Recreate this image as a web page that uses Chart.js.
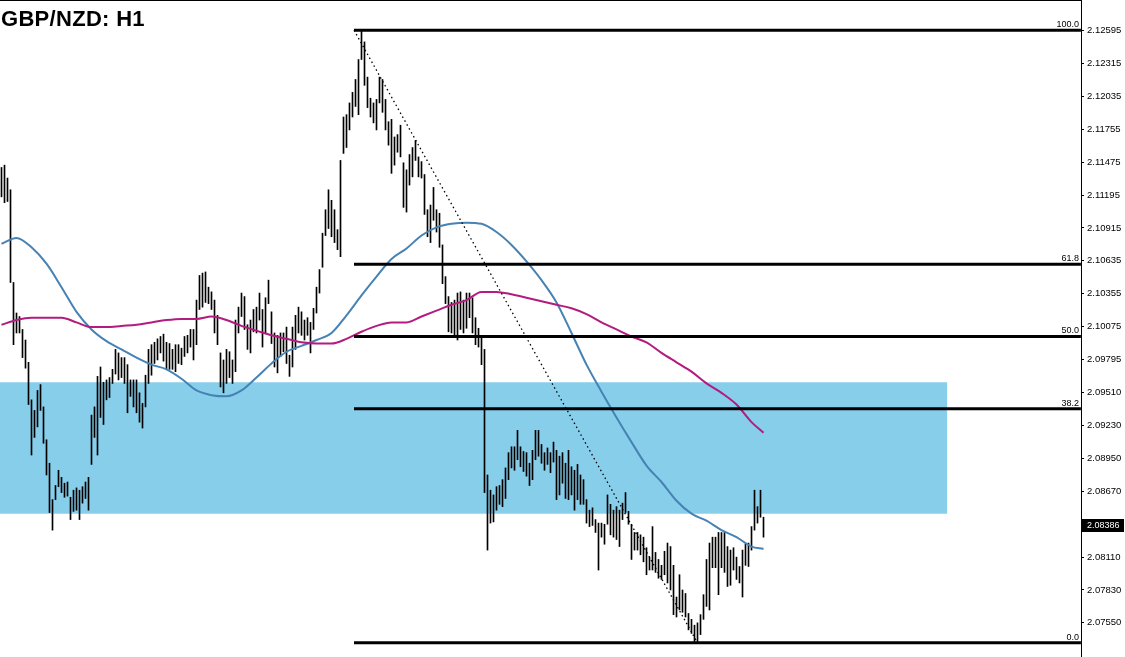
<!DOCTYPE html>
<html><head><meta charset="utf-8">
<script src="https://cdn.jsdelivr.net/npm/chart.js@4.4.0/dist/chart.umd.min.js"></script>
<style>
html,body{margin:0;padding:0;background:#fff;overflow:hidden}
#wrap{position:relative;width:1125px;height:657px}
#title{position:absolute;left:1px;top:8px;font:bold 22px "Liberation Sans",Arial,sans-serif;line-height:22px;color:#000;z-index:2;letter-spacing:0.3px}
canvas{position:absolute;left:0;top:0}
</style></head><body>
<div id="wrap"><canvas id="c" width="1125" height="657"></canvas><div id="title">GBP/NZD: H1</div></div>
<script>
// H1 bars: highs and lows, one per bar
const highs = [2.1143,2.1145,2.1134,2.1124,2.1045,2.1019,2.1016,2.1005,2.0996,2.0977,
2.0945,2.0936,2.0953,2.0958,2.0939,2.0911,2.0891,2.0860,2.0872,2.0885,
2.0879,2.0874,2.0875,2.0862,2.0868,2.0870,2.0868,2.0871,2.0875,2.0879,
2.0932,2.0939,2.0965,2.0973,2.0960,2.0962,2.0964,2.0971,2.0988,2.0985,
2.0981,2.0981,2.0975,2.0962,2.0962,2.0962,2.0951,2.0942,2.0966,2.0988,
2.0992,2.0994,2.0997,2.0999,2.1001,2.0994,2.0993,2.0988,2.0992,2.0992,
2.0989,2.0999,2.1000,2.1005,2.1005,2.1030,2.1051,2.1053,2.1054,2.1041,
2.1037,2.1030,2.1017,2.0985,2.0979,2.0988,2.0986,2.0979,2.1013,2.1024,
2.1036,2.1033,2.1009,2.1013,2.1022,2.1024,2.1036,2.1022,2.1032,2.1047,
2.1020,2.1002,2.1000,2.1002,2.1002,2.1007,2.0983,2.1007,2.1017,2.1024,
2.1020,2.1013,2.1015,2.1011,2.1023,2.1041,2.1056,2.1087,2.1107,2.1124,
2.1115,2.1107,2.1090,2.1149,2.1186,2.1188,2.1198,2.1207,2.1218,2.1235,
2.1260,2.1250,2.1220,2.1202,2.1198,2.1201,2.1220,2.1218,2.1201,2.1182,
2.1184,2.1169,2.1171,2.1179,2.1147,2.1141,2.1154,2.1160,2.1166,2.1152,
2.1148,2.1137,2.1107,2.1111,2.1126,2.1107,2.1104,2.1077,2.1050,2.1033,
2.1028,2.1030,2.1036,2.1037,2.1030,2.1036,2.1036,2.1032,2.1015,2.1006,
2.1000,2.0988,2.0881,2.0868,2.0864,2.0871,2.0872,2.0877,2.0887,2.0900,
2.0905,2.0905,2.0919,2.0905,2.0901,2.0900,2.0891,2.0902,2.0919,2.0919,
2.0907,2.0900,2.0904,2.0900,2.0909,2.0902,2.0897,2.0900,2.0891,2.0902,
2.0888,2.0885,2.0890,2.0881,2.0877,2.0860,2.0851,2.0853,2.0843,2.0840,
2.0840,2.0839,2.0864,2.0856,2.0851,2.0854,2.0851,2.0857,2.0866,2.0850,
2.0839,2.0832,2.0832,2.0830,2.0828,2.0819,2.0811,2.0837,2.0815,2.0809,
2.0804,2.0816,2.0823,2.0820,2.0804,2.0777,2.0796,2.0783,2.0780,2.0763,
2.0758,2.0753,2.0755,2.0762,2.0779,2.0809,2.0823,2.0828,2.0828,2.0832,
2.0832,2.0832,2.0820,2.0817,2.0819,2.0811,2.0803,2.0817,2.0822,2.0823,
2.0837,2.0868,2.0854,2.0868,2.0845];
const lows = [2.1118,2.1113,2.1114,2.1045,2.0992,2.1002,2.1002,2.0981,2.0972,2.0941,
2.0898,2.0913,2.0922,2.0936,2.0908,2.0881,2.0849,2.0834,2.0860,2.0871,
2.0866,2.0862,2.0863,2.0843,2.0850,2.0851,2.0843,2.0857,2.0861,2.0851,
2.0890,2.0913,2.0898,2.0930,2.0924,2.0945,2.0947,2.0959,2.0967,2.0962,
2.0964,2.0959,2.0934,2.0948,2.0939,2.0934,2.0926,2.0921,2.0939,2.0959,
2.0966,2.0976,2.0979,2.0985,2.0978,2.0971,2.0971,2.0971,2.0969,2.0976,
2.0975,2.0982,2.0985,2.0990,2.0979,2.0992,2.1022,2.1024,2.1028,2.1027,
2.1022,2.1002,2.0992,2.0956,2.0951,2.0959,2.0964,2.0959,2.0969,2.1002,
2.1016,2.1005,2.0988,2.0985,2.1003,2.1002,2.1013,2.0990,2.1002,2.1027,
2.0993,2.0973,2.0968,2.0982,2.0986,2.0976,2.0965,2.0973,2.0988,2.1002,
2.1000,2.0996,2.1000,2.0985,2.1005,2.1019,2.1036,2.1058,2.1085,2.1091,
2.1084,2.1079,2.1073,2.1067,2.1155,2.1160,2.1175,2.1186,2.1195,2.1188,
2.1235,2.1213,2.1194,2.1186,2.1181,2.1175,2.1198,2.1190,2.1175,2.1162,
2.1138,2.1145,2.1156,2.1152,2.1109,2.1105,2.1128,2.1135,2.1149,2.1135,
2.1134,2.1103,2.1084,2.1079,2.1098,2.1088,2.1075,2.1044,2.1027,2.1003,
2.1002,2.0998,2.0996,2.1005,2.1002,2.1006,2.1015,2.1002,2.0992,2.0990,
2.0975,2.0866,2.0817,2.0840,2.0841,2.0851,2.0856,2.0854,2.0861,2.0877,
2.0887,2.0885,2.0894,2.0888,2.0884,2.0880,2.0872,2.0877,2.0894,2.0897,
2.0891,2.0885,2.0890,2.0883,2.0892,2.0860,2.0864,2.0874,2.0861,2.0860,
2.0864,2.0851,2.0860,2.0856,2.0856,2.0840,2.0837,2.0838,2.0832,2.0800,
2.0828,2.0822,2.0839,2.0830,2.0828,2.0826,2.0820,2.0843,2.0849,2.0839,
2.0809,2.0817,2.0817,2.0813,2.0807,2.0796,2.0800,2.0800,2.0798,2.0793,
2.0792,2.0796,2.0789,2.0783,2.0762,2.0760,2.0766,2.0764,2.0760,2.0749,
2.0746,2.0738,2.0738,2.0745,2.0758,2.0769,2.0766,2.0802,2.0802,2.0779,
2.0802,2.0798,2.0786,2.0787,2.0800,2.0792,2.0789,2.0777,2.0804,2.0803,
2.0817,2.0834,2.0840,2.0845,2.0828];

// moving averages sampled at these bar indices
const maIdx = [0,5,10,15,20,25,30,35,40,45,50,55,60,65,70,75,80,85,90,95,100,105,110,115,120,125,130,135,140,145,150,155,160,165,170,175,180,185,190,195,200,205,210,215,220,225,230,235,240,245,250,254];
const maBlue = [2.1078,2.1083,2.1075,2.1061,2.1041,2.1020,2.1005,2.0995,2.0988,2.0981,2.0975,2.0971,2.0963,2.0953,2.0949,2.0948,2.0953,2.0964,2.0976,2.0986,2.0991,2.0996,2.1002,2.1017,2.1034,2.1050,2.1065,2.1074,2.1085,2.1092,2.1095,2.1096,2.1095,2.1088,2.1077,2.1063,2.1047,2.1028,2.1002,2.0975,2.0952,2.0930,2.0909,2.0889,2.0875,2.0859,2.0848,2.0842,2.0834,2.0828,2.0820,2.0818];
const maMagenta = [2.1009,2.1013,2.1015,2.1015,2.1015,2.1011,2.1007,2.1007,2.1008,2.1009,2.1011,2.1013,2.1014,2.1014,2.1016,2.1013,2.1008,2.1004,2.1000,2.0997,2.0994,2.0993,2.0993,2.0997,2.1003,2.1008,2.1011,2.1011,2.1016,2.1021,2.1026,2.1030,2.1037,2.1037,2.1035,2.1032,2.1029,2.1026,2.1023,2.1018,2.1011,2.1005,2.0999,2.0994,2.0985,2.0977,2.0969,2.0959,2.0951,2.0941,2.0926,2.0917];

const tickValues = [2.12595,2.12315,2.12035,2.11755,2.11475,2.11195,2.10915,2.10635,2.10355,2.10075,2.09795,2.09510,2.09230,2.08950,2.08670,2.08110,2.07830,2.07550];
const lastPrice = 2.08386;

// Fibonacci swing (high -> low)
const swingIdx = [117.5, 232];
const swingPrice = [2.1260, 2.0738];
const fibRatios = [100, 61.8, 50, 38.2, 0];
const fibEndIdx = 359.8;

// support/resistance zone
const zoneIdx = [-0.5, 315.2];
const zonePrice = [2.0960, 2.0848];

const yMin = 2.07259, yMax = 2.12857;
const FONT = '"Liberation Sans", Arial, sans-serif';

const fibLevel = r => swingPrice[1] + (swingPrice[0] - swingPrice[1]) * r / 100;

const datasets = [];
fibRatios.forEach(r => {
  datasets.push({type:'line', data:[{x:swingIdx[0], y:fibLevel(r)},{x:fibEndIdx, y:fibLevel(r)}],
    borderColor:'#000', borderWidth:3, pointRadius:0, order:0});
});
datasets.push({type:'line', data:[{x:swingIdx[0], y:swingPrice[0]},{x:swingIdx[1], y:swingPrice[1]}],
  borderColor:'#000', borderWidth:1.3, borderDash:[1.5,3], pointRadius:0, order:1});
datasets.push({type:'line', data:maIdx.map((x,k)=>({x, y:maMagenta[k]})), borderColor:'#B31B7E', borderWidth:2,
  pointRadius:0, cubicInterpolationMode:'monotone', order:2});
datasets.push({type:'line', data:maIdx.map((x,k)=>({x, y:maBlue[k]})), borderColor:'#4682B4', borderWidth:2,
  pointRadius:0, cubicInterpolationMode:'monotone', order:3});
datasets.push({type:'bar', data:highs.map((h,i)=>({x:i, y:[lows[i], h]})), backgroundColor:'#000',
  borderWidth:0, barThickness:1, grouped:false, order:4});

const zonePlugin = {
  id:'zone',
  beforeDatasetsDraw(chart){
    const {ctx, scales:{x, y}} = chart;
    const x1 = x.getPixelForValue(zoneIdx[0]), x2 = x.getPixelForValue(zoneIdx[1]);
    const y1 = y.getPixelForValue(zonePrice[0]), y2 = y.getPixelForValue(zonePrice[1]);
    ctx.save(); ctx.fillStyle = '#87CEEB'; ctx.fillRect(x1, y1, x2 - x1, y2 - y1); ctx.restore();
  },
  afterDraw(chart){
    const {ctx, chartArea, scales:{y}} = chart;
    ctx.save();
    ctx.font = '9px ' + FONT; ctx.fillStyle = '#000'; ctx.textAlign = 'right'; ctx.textBaseline = 'alphabetic';
    fibRatios.forEach(r => {
      const py = y.getPixelForValue(fibLevel(r));
      ctx.fillText(r.toFixed(1), chartArea.right - 2, py - 3);
    });
    ctx.fillRect(0, 0, chartArea.right + 1, 1);
    const py = Math.round(y.getPixelForValue(lastPrice));
    ctx.fillRect(chartArea.right + 1, py - 6, 42, 13);
    ctx.fillStyle = '#fff'; ctx.textAlign = 'left'; ctx.textBaseline = 'middle';
    ctx.fillText(lastPrice.toFixed(5), chartArea.right + 6, py + 0.5);
    ctx.restore();
  }
};

new Chart(document.getElementById('c'), {
  type:'bar',
  data:{datasets},
  options:{
    responsive:false, animation:false, devicePixelRatio:1,
    layout:{padding:0},
    plugins:{legend:{display:false}, tooltip:{enabled:false}, title:{display:false}},
    scales:{
      x:{type:'linear', display:false, offset:false, min:-0.5, max:359.833},
      y:{position:'right', min:yMin, max:yMax,
        afterBuildTicks: s => { s.ticks = tickValues.map(v => ({value:v})); },
        afterFit: s => { s.width = 44; s.paddingTop = 0; s.paddingBottom = 0; },
        ticks:{color:'#000', font:{family:FONT, size:9.5}, padding:3, autoSkip:false,
          callback: v => Number(v).toFixed(5)},
        grid:{drawOnChartArea:false, drawTicks:true, tickLength:3, color:'#000'},
        border:{display:true, color:'#000', width:1}
      }
    }
  },
  plugins:[zonePlugin]
});
</script>
</body></html>
